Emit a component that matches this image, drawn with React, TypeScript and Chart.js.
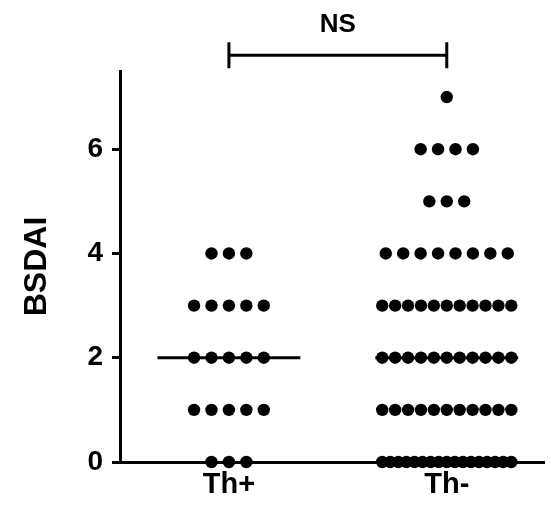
import React, { useEffect, useRef } from "react";
import { Chart, registerables } from "chart.js";

Chart.register(...registerables);

// ---- data ----
const categories = ["Th+", "Th-"];
const categoryPositions = [1, 3];
const thPlusValues = [
  0, 0, 0,
  1, 1, 1, 1, 1,
  2, 2, 2, 2, 2,
  3, 3, 3, 3, 3,
  4, 4, 4,
];
const thMinusValues = [
  0, 0, 0, 0, 0, 0, 0, 0, 0, 0, 0, 0, 0, 0, 0, 0, 0,
  1, 1, 1, 1, 1, 1, 1, 1, 1, 1, 1,
  2, 2, 2, 2, 2, 2, 2, 2, 2, 2, 2,
  3, 3, 3, 3, 3, 3, 3, 3, 3, 3, 3,
  4, 4, 4, 4, 4, 4, 4, 4,
  5, 5, 5,
  6, 6, 6, 6,
  7,
];
const yTickValues = [0, 2, 4, 6];
const yAxisTitle = "BSDAI";
const significanceLabel = "NS";

// ---- layout / style ----
const Y_MIN = 0;
const Y_MAX = 7.5;
const X_MIN = 0;
const X_MAX = 3.9;
const DOT_SPACING = 0.16; // x units between neighbouring dots
const MAX_ROW_SPAN = 1.185; // widest span of a dot row, x units
const MEDIAN_HALF_WIDTH = 0.656;
const BRACKET_LEVEL = 7.8;
const FONT = "'Liberation Sans', Arial, Helvetica, sans-serif";

function swarm(values: number[], center: number) {
  const byValue = new Map<number, number>();
  values.forEach((v) => byValue.set(v, (byValue.get(v) || 0) + 1));
  const pts: { x: number; y: number }[] = [];
  byValue.forEach((n, v) => {
    const spacing = n > 1 ? Math.min(DOT_SPACING, MAX_ROW_SPAN / (n - 1)) : 0;
    for (let i = 0; i < n; i++) {
      pts.push({ x: center + (i - (n - 1) / 2) * spacing, y: v });
    }
  });
  return pts;
}

function median(values: number[]) {
  const s = [...values].sort((a, b) => a - b);
  const m = Math.floor(s.length / 2);
  return s.length % 2 ? s[m] : (s[m - 1] + s[m]) / 2;
}

const groups = [thPlusValues, thMinusValues];

const bracketPlugin = {
  id: "bracket",
  afterDraw(chart: any) {
    const { ctx, scales } = chart;
    const xs = scales.x;
    const ys = scales.y;
    const x1 = xs.getPixelForValue(categoryPositions[0]);
    const x2 = xs.getPixelForValue(categoryPositions[1]);
    const y = ys.getPixelForValue(BRACKET_LEVEL);
    ctx.save();
    ctx.strokeStyle = "#000";
    ctx.lineWidth = 3;
    ctx.beginPath();
    ctx.moveTo(x1, y);
    ctx.lineTo(x2, y);
    ctx.moveTo(x1, y - 13);
    ctx.lineTo(x1, y + 13);
    ctx.moveTo(x2, y - 13);
    ctx.lineTo(x2, y + 13);
    ctx.stroke();
    ctx.fillStyle = "#000";
    ctx.font = `bold 26px ${FONT}`;
    ctx.textAlign = "center";
    ctx.textBaseline = "middle";
    ctx.fillText(significanceLabel, (x1 + x2) / 2, y - 31);
    ctx.restore();
  },
};

export default function App() {
  const ref = useRef<HTMLCanvasElement | null>(null);

  useEffect(() => {
    if (!ref.current) return;
    const datasets: any[] = [];
    groups.forEach((vals, gi) => {
      const c = categoryPositions[gi];
      datasets.push({
        type: "scatter",
        data: swarm(vals, c),
        backgroundColor: "#000",
        borderWidth: 0,
        pointRadius: 6.2,
        clip: false,
        order: 1,
      });
      const med = median(vals);
      datasets.push({
        type: "scatter",
        data: [
          { x: c - MEDIAN_HALF_WIDTH, y: med },
          { x: c + MEDIAN_HALF_WIDTH, y: med },
        ],
        showLine: true,
        borderColor: "#000",
        borderWidth: 3,
        pointRadius: 0,
        clip: false,
        order: 2,
      });
    });

    const chart = new Chart(ref.current, {
      type: "scatter",
      data: { datasets },
      plugins: [bracketPlugin],
      options: {
        responsive: false,
        animation: false,
        events: [],
        layout: { padding: { top: 71, right: 3, left: 0, bottom: 0 } },
        plugins: { legend: { display: false }, tooltip: { enabled: false } },
        scales: {
          x: {
            type: "linear",
            min: X_MIN,
            max: X_MAX,
            afterBuildTicks: (s: any) => {
              s.ticks = categoryPositions.map((v) => ({ value: v }));
            },
            afterFit: (s: any) => {
              s.height = 44;
            },
            ticks: {
              autoSkip: false,
              maxRotation: 0,
              padding: 1,
              color: "#000",
              font: { family: FONT, size: 29, weight: "bold" },
              callback: (v: any) => categories[categoryPositions.indexOf(v)],
            },
            grid: {
              drawOnChartArea: false,
              drawTicks: true,
              tickLength: 5,
              tickWidth: 3,
              tickColor: "#000",
            },
            border: { display: true, color: "#000", width: 3 },
          },
          y: {
            type: "linear",
            min: Y_MIN,
            max: Y_MAX,
            afterBuildTicks: (s: any) => {
              s.ticks = yTickValues.map((v) => ({ value: v }));
            },
            afterFit: (s: any) => {
              s.width = 120;
            },
            ticks: {
              padding: 9,
              color: "#000",
              font: { family: FONT, size: 28, weight: "bold" },
            },
            grid: {
              drawOnChartArea: false,
              drawTicks: true,
              tickLength: 8,
              tickWidth: 3,
              tickColor: "#000",
            },
            border: { display: true, color: "#000", width: 3 },
            title: {
              display: true,
              text: yAxisTitle,
              color: "#000",
              font: { family: FONT, size: 32, weight: "bold" },
              padding: { top: 18, bottom: 0 },
            },
          },
        },
      },
    } as any);
    return () => chart.destroy();
  }, []);

  return (
    <div style={{ position: "absolute", left: 0, top: 0, width: 551, height: 506 }}>
      <canvas ref={ref} width={551} height={506} style={{ width: 551, height: 506 }} />
    </div>
  );
}
